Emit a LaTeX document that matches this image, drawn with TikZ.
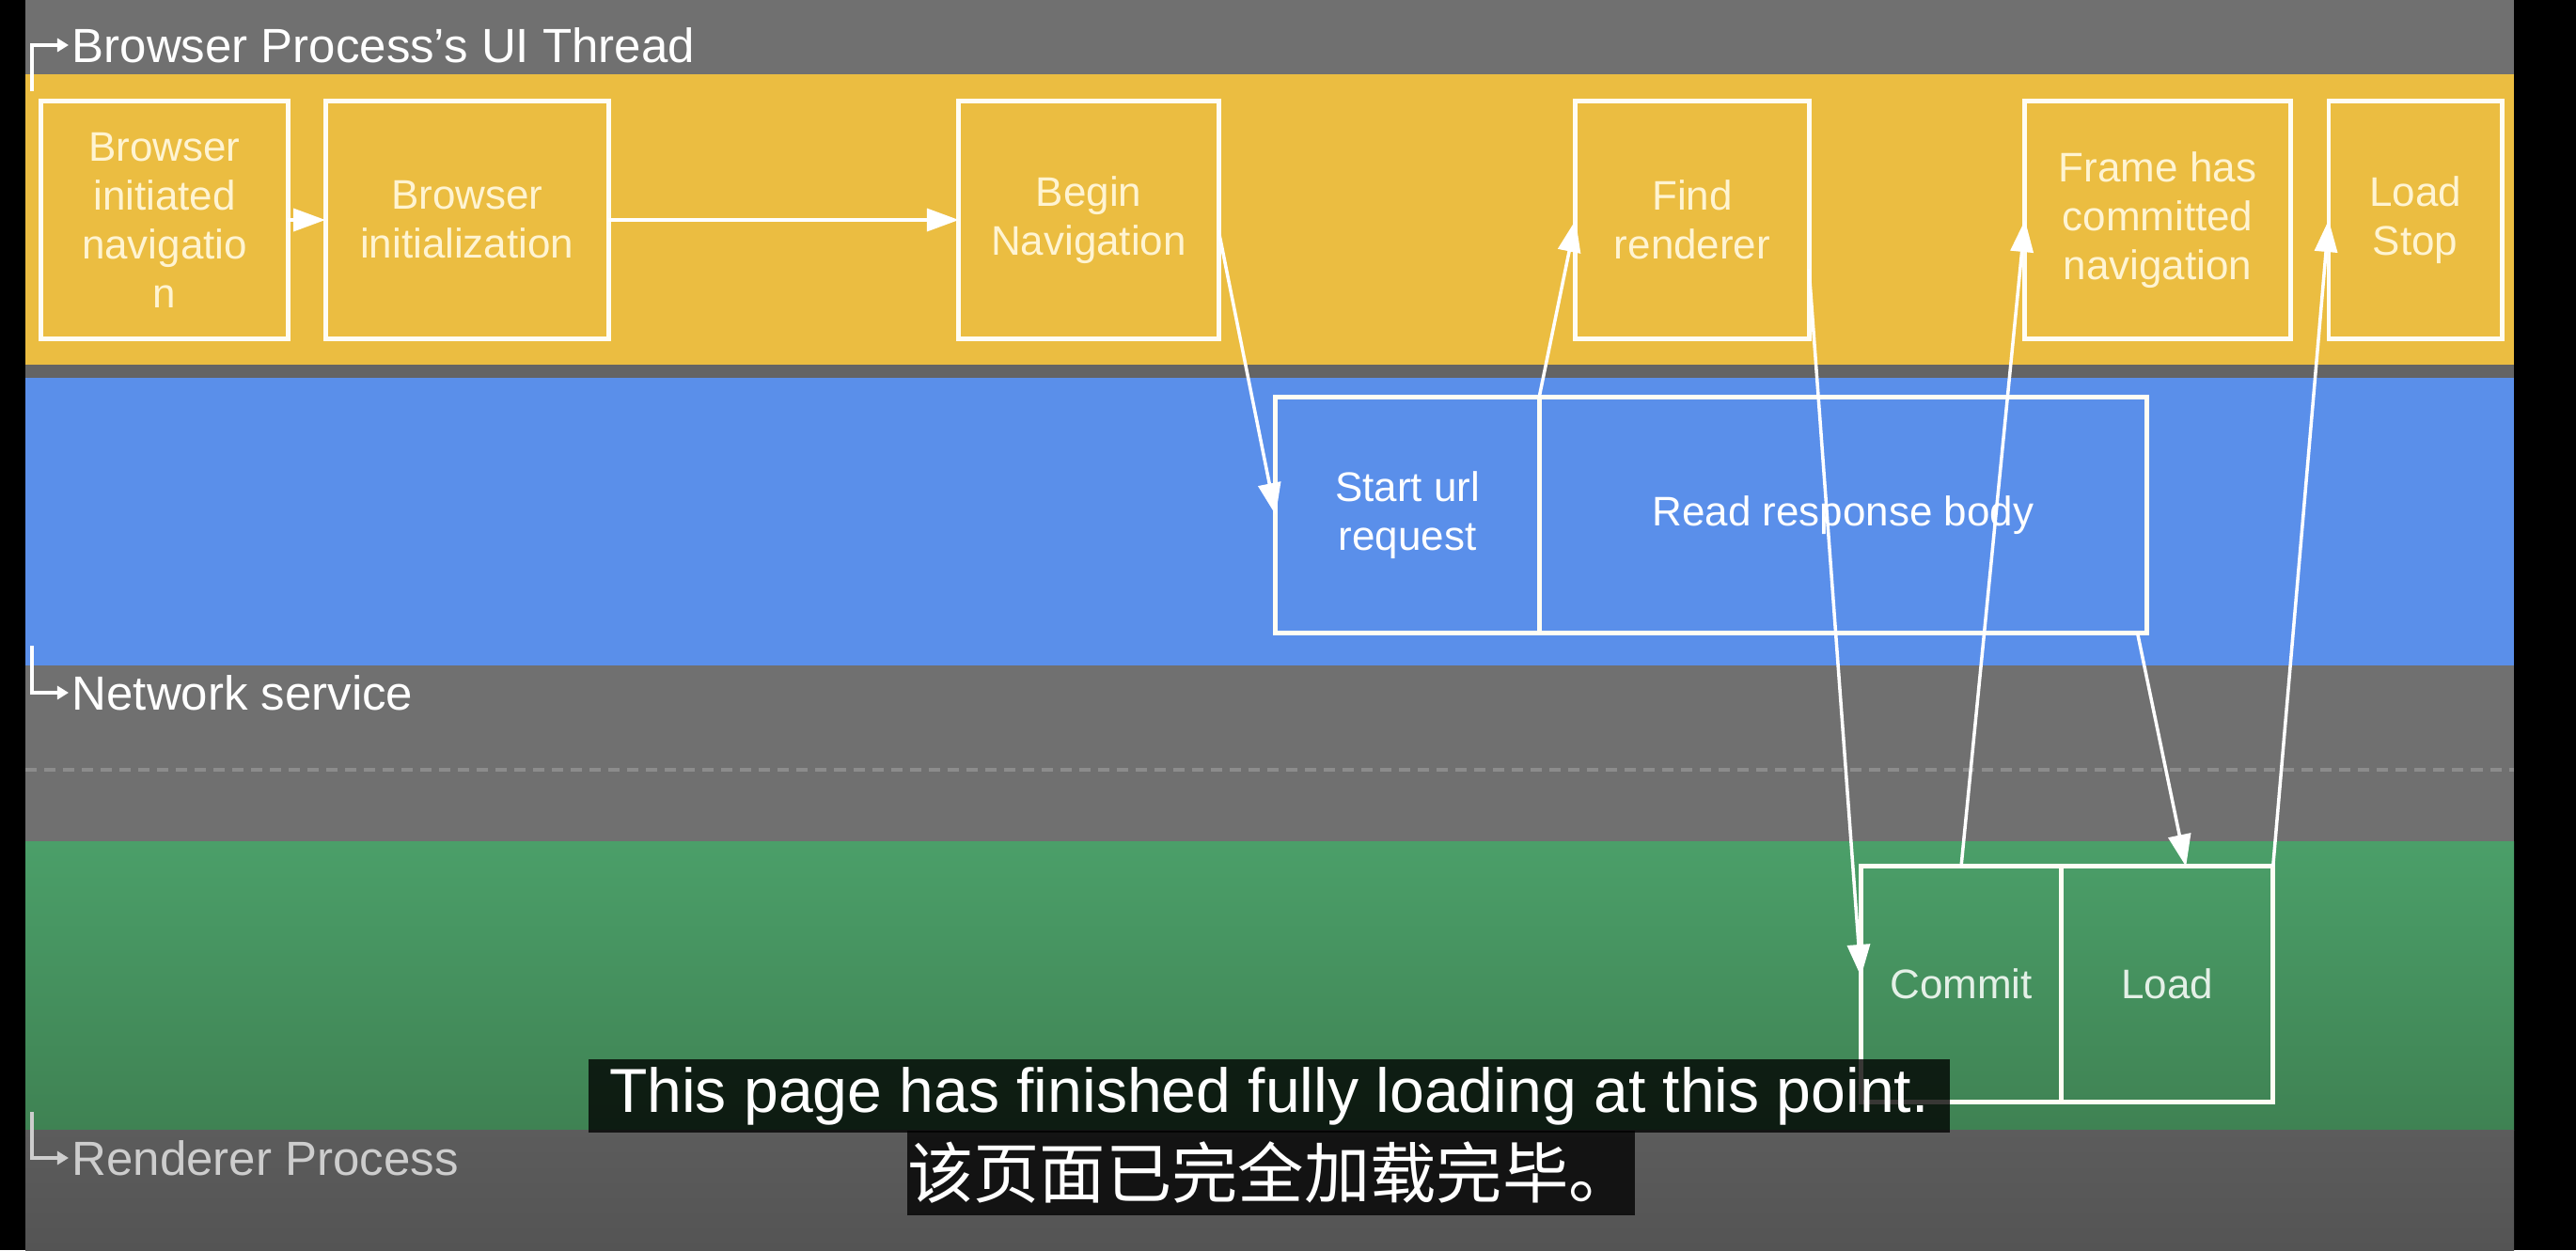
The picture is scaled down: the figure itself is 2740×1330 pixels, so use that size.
\documentclass[tikz,border=0pt]{standalone}
\usepackage{fontspec}
\setmainfont{Liberation Sans}
\newfontfamily\cjkfont{Noto Sans CJK SC}
\usetikzlibrary{arrows.meta,positioning}
\definecolor{LaneGray}{HTML}{707070}
\definecolor{UIYellow}{HTML}{EBBD41}
\definecolor{SepGray}{HTML}{646464}
\definecolor{NetBlue}{HTML}{5A8FEA}
\definecolor{DashGray}{HTML}{8C8C8C}
\definecolor{RendGreenTop}{HTML}{4B9F69}
\definecolor{RendGreenBot}{HTML}{3F8253}
\definecolor{BaseGrayTop}{HTML}{5C5C5C}
\definecolor{BaseGrayBot}{HTML}{545454}
\definecolor{StageLine}{HTML}{FFFDF4}
\definecolor{YellowText}{HTML}{FFF4D2}
\definecolor{GreenText}{HTML}{E4F0E7}
\definecolor{LabelFaded}{HTML}{CDCDCD}

\begin{document}
\begin{tikzpicture}[
    x=0.01cm,y=-0.01cm,
    stage/.style={rectangle,draw=StageLine,line width=1.4pt,outer sep=0pt,inner sep=0pt,align=center,
      font=\fontsize{12.5}{14.8}\selectfont,minimum height=2.53cm},
    flow/.style={-{Triangle[length=3.4mm,width=2.4mm]},line width=1pt,draw=white},
    lanemark/.style={-{Triangle[length=1.2mm,width=1.4mm]},line width=0.9pt},
    lanelabel/.style={anchor=west,inner sep=0pt,font=\fontsize{14.5}{17}\selectfont},
    subtitle/.style={fill=black,fill opacity=0.78,text opacity=1,text=white,inner sep=0pt}
  ]
  \useasboundingbox (0,0) rectangle (2740,1330);
  % lanes
  \fill[black] (0,0) rectangle (2740,1330);
  \fill[LaneGray] (27,0) rectangle (2674,79);
  \fill[UIYellow] (27,79) rectangle (2674,388);
  \fill[SepGray] (27,388) rectangle (2674,402);
  \fill[NetBlue] (27,402) rectangle (2674,708);
  \fill[LaneGray] (27,708) rectangle (2674,895);
  \draw[DashGray,line width=1pt,dash pattern=on 0.12cm off 0.08cm] (27,819) -- (2674,819);
  \fill[top color=RendGreenTop,bottom color=RendGreenBot] (27,895) rectangle (2674,1202);
  \fill[top color=BaseGrayTop,bottom color=BaseGrayBot] (27,1202) rectangle (2674,1330);

  % UI thread
  \node[stage,text=YellowText,minimum width=2.62cm] (init) at (175,234) {Browser\\initiated\\navigatio\\n};
  \node[stage,text=YellowText,minimum width=3.01cm,right=0.4cm of init] (binit) {Browser\\initialization};
  \node[stage,text=YellowText,minimum width=2.76cm] (begin) at (1158,234) {Begin\\Navigation};
  \node[stage,text=YellowText,minimum width=2.48cm] (find) at (1800,234) {Find\\renderer};
  \node[stage,text=YellowText,minimum width=2.82cm] (frame) at (2295,234) {Frame has\\committed\\navigation};
  \node[stage,text=YellowText,minimum width=1.84cm] (stop) at (2569,234) {Load\\Stop};
  % network service
  \node[stage,text=white,minimum width=2.8cm,minimum height=2.5cm] (start) at (1497,548) {Start url\\request};
  \node[stage,text=white,minimum width=6.46cm,minimum height=2.5cm,right=0pt of start] (read) {Read response body};
  % renderer
  \node[stage,text=GreenText,minimum width=2.13cm,minimum height=2.5cm] (commit) at (2086,1047) {Commit};
  \node[stage,text=GreenText,minimum width=2.25cm,minimum height=2.5cm,right=0pt of commit] (load) {Load};

  \draw[flow] (init) -- (binit);
  \draw[flow] (binit) -- (begin);
  \draw[flow] ([yshift=-0.11cm]begin.east) -- (start.west);
  \draw[flow] (start.north east) -- (find.west);
  \draw[flow] ([yshift=-0.52cm]find.east) -- ([yshift=0.08cm]commit.west);
  \draw[flow] (commit.north) -- (frame.west);
  \draw[flow] ([xshift=-0.1cm]read.south east) -- ([xshift=0.2cm]load.north);
  \draw[flow] (load.north east) -- (stop.west);

  % lane labels
  \node[lanelabel,text=white] (uiLane) at (76,48) {Browser Process's UI Thread};
  \node[lanelabel,text=white] (netLane) at (76,737) {Network service};
  \node[lanelabel,text=LabelFaded] (rendLane) at (76,1232) {Renderer Process};
  \draw[lanemark,white] (34,97) |- ([xshift=-0.03cm]uiLane.west);
  \draw[lanemark,white] (34,687) |- ([xshift=-0.03cm]netLane.west);
  \draw[lanemark,LabelFaded] (34,1183) |- ([xshift=-0.03cm]rendLane.west);

  % subtitles
  \node[subtitle,minimum width=14.47cm,minimum height=0.77cm,font=\fontsize{18.8}{20}\selectfont] (subEn) at (1350,1166) {This page has finished fully loading at this point.};
  \node[subtitle,minimum width=7.6cm,minimum height=0.89cm,font=\cjkfont\fontsize{20}{22}\selectfont] (subZh) at (1352,1248) {该页面已完全加载完毕。};
\end{tikzpicture}
\end{document}
